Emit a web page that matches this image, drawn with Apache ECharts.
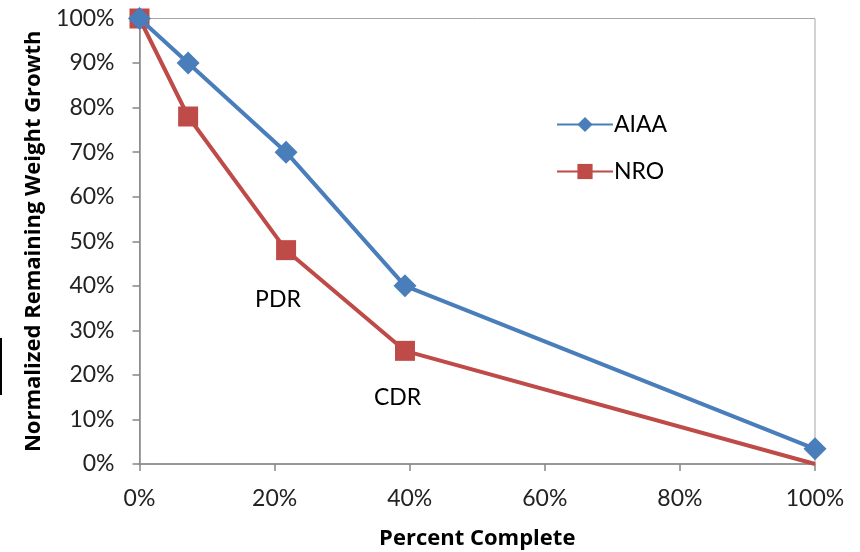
<!DOCTYPE html>
<html><head><meta charset="utf-8">
<script src="https://cdn.jsdelivr.net/npm/echarts@6/dist/echarts.min.js"></script>
<style>html,body{margin:0;padding:0;background:#fff}#c{width:860px;height:552px}</style>
</head><body><div id="c"></div>
<script>
const percentComplete = [0, 7.2, 21.7, 39.3, 100];
const aiaa = [100, 90, 70, 40, 3.4];
const nro = [100, 78, 48, 25.4, 0];
const seriesNames = ['AIAA', 'NRO'];
const annotations = [
  { text: 'PDR', x: 20.5, y: 37 },
  { text: 'CDR', x: 38.2, y: 15 }
];
const FONT = 'Lato';
const TFONT = 'Open Sans';
const chart = echarts.init(document.getElementById('c'));
const gray = '#868686';
chart.setOption({
  animation: false,
  textStyle: { fontFamily: FONT },
  grid: { left: 139.5, right: 45, top: 18.5, bottom: 88, show: true, borderColor: '#a6a6a6', borderWidth: 1, outerBoundsMode: 'none', containLabel: false },
  legend: {
    orient: 'vertical', left: 551, top: 108, itemWidth: 56, itemHeight: 19, itemGap: 24,
    textStyle: { fontSize: 23, color: '#000', fontFamily: FONT, padding: [0, 0, 0, -4] },
    data: seriesNames
  },
  xAxis: {
    type: 'value', min: 0, max: 100, interval: 20,
    name: 'Percent Complete', nameLocation: 'middle', nameGap: 64,
    nameTextStyle: { fontSize: 22, fontWeight: 'bold', color: '#000', fontFamily: TFONT },
    axisLine: { lineStyle: { color: gray, width: 1.5 } },
    axisTick: { show: true, length: 7, lineStyle: { color: gray, width: 1.5 } },
    axisLabel: { formatter: '{value}%', fontSize: 23, color: '#222', margin: 23, fontFamily: FONT },
    splitLine: { show: false }
  },
  yAxis: {
    type: 'value', min: 0, max: 100, interval: 10,
    name: 'Normalized Remaining Weight Growth', nameLocation: 'middle', nameGap: 95,
    nameTextStyle: { fontSize: 22, fontWeight: 'bold', color: '#000', fontFamily: TFONT },
    axisLine: { show: true, lineStyle: { color: gray, width: 1.5 } },
    axisTick: { show: true, length: 7, lineStyle: { color: gray, width: 1.5 } },
    axisLabel: { formatter: '{value}%', fontSize: 23, color: '#222', margin: 25, fontFamily: FONT },
    splitLine: { show: false }
  },
  series: [
    {
      name: seriesNames[0], type: 'line', data: percentComplete.map((x, i) => [x, aiaa[i]]),
      symbol: 'diamond', symbolSize: 23, color: '#4a7ebb',
      lineStyle: { width: 4, color: '#4a7ebb' }, itemStyle: { color: '#4a7ebb' }, z: 3,
      markPoint: {
        symbol: 'circle', symbolSize: 0,
        label: { show: true, position: 'inside', fontSize: 23, color: '#000', fontFamily: FONT, formatter: p => p.name },
        data: annotations.map(a => ({ name: a.text, coord: [a.x, a.y] }))
      }
    },
    {
      name: seriesNames[1], type: 'line',
      data: percentComplete.map((x, i) => ({ value: [x, nro[i]], symbol: i === percentComplete.length - 1 ? 'none' : 'rect' })),
      symbol: 'rect', symbolSize: 20, color: '#be4b48',
      lineStyle: { width: 4, color: '#be4b48' }, itemStyle: { color: '#be4b48' }, z: 2
    }
  ],
  graphic: [{ type: 'rect', shape: { x: 0, y: 338, width: 2, height: 57 }, style: { fill: '#000' } }]
});
</script></body></html>
